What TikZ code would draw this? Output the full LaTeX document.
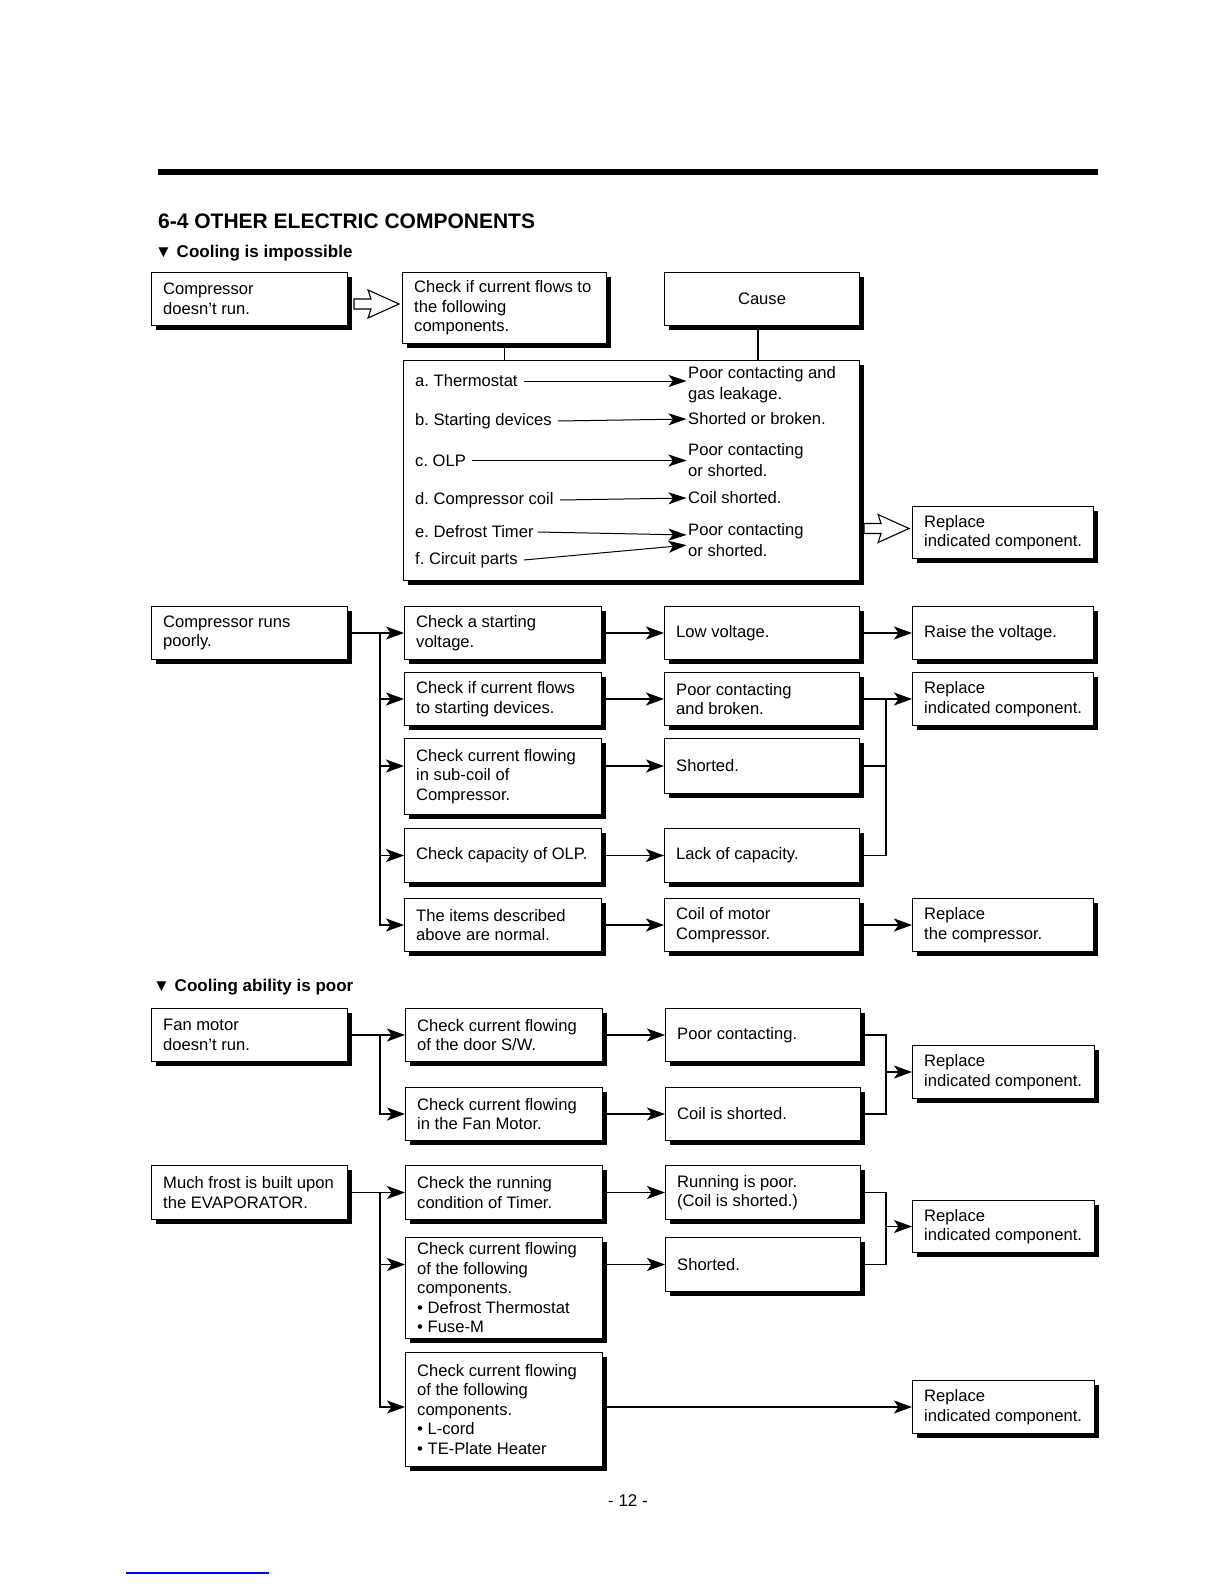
\documentclass[tikz,border=0pt]{standalone}
\usepackage{fontspec}
\setmainfont{Liberation Sans}
\usetikzlibrary{arrows.meta,shadows,calc}
\newcommand\bx[6]{%
  \pgfmathsetmacro\myBW{#4-#2}%
  \pgfmathsetmacro\myBH{#5-#3}%
  \node[box,minimum width=\myBW pt,minimum height=\myBH pt] (#1) at (#2,#3) {};
  \node[btxt] (#1-t) at ([xshift=12pt]#1.west) {#6};}
\begin{document}
\frenchspacing
\begin{tikzpicture}[x=1pt,y=-1pt,
  txt/.style={font=\fontsize{16.6}{19.5}\selectfont},
  box/.style={draw,fill=white,line width=1pt,anchor=north west,inner sep=0pt,
     drop shadow={shadow xshift=4.5pt,shadow yshift=-4.5pt,fill=black,opacity=1}},
  btxt/.style={txt,anchor=west,inner sep=0pt,align=left},
  arr/.style={line width=1.3pt,-{Stealth[length=18pt,width=13pt,inset=4.5pt]}},
  sarr/.style={line width=1pt,-{Stealth[length=18pt,width=12pt,inset=4.5pt]},shorten >=1.5pt},
  link/.style={line width=1.3pt},
  itm/.style={txt,inner sep=0pt,anchor=west,align=left},
  cse/.style={itm,font=\fontsize{16.6}{21}\selectfont},
  hollow/.style={draw,fill=white,line width=1.1pt,line join=miter},
  head/.style={inner sep=0pt,anchor=base west,font=\bfseries\fontsize{17}{20}\selectfont}]
\fill[white] (0,0) rectangle (1224,1584);
\useasboundingbox (0,0) rectangle (1224,1584);
\coordinate (xT) at (380,0);
\coordinate (xK) at (886,0);

% header
\draw[line width=6pt] (158,172) -- (1098,172);
\node[inner sep=0pt,anchor=base west,font=\bfseries\fontsize{21}{25}\selectfont] (title) at (158,228) {6-4 OTHER ELECTRIC COMPONENTS};
\node[head] (sub1) at (155,257) {▼ Cooling is impossible};

% section 1
\bx{A}{151}{272}{347}{325}{Compressor\\doesn't run.}
\bx{B}{402}{272}{606}{343}{Check if current flows to\\the following\\components.}
\bx{cause}{664}{272}{859}{325}{}
\node[btxt,anchor=center] (cause-t) at (cause.center) {Cause};
\bx{big}{403}{360}{859}{580}{}
\bx{R1}{912}{506}{1093}{558}{Replace\\indicated component.}

\draw[link] (B.south) -- (B.south |- big.north);
\coordinate (cs) at ([xshift=-4pt]cause.south);
\draw[link] (cs) -- (cs |- big.north);

\path (A.east) ++(6,5) coordinate (h1);
\draw[hollow] (h1) ++(0,-5) -- ++(17,0) -- ++(-3,-9) -- ++(31,14) -- ++(-31,14) -- ++(3,-9) -- ++(-17,0) -- cycle;
\path (R1.west) ++(-48,-4) coordinate (h2);
\draw[hollow] (h2) ++(0,-5) -- ++(17,0) -- ++(-3,-9) -- ++(31,14) -- ++(-31,14) -- ++(3,-9) -- ++(-17,0) -- cycle;

\node[itm] (i1) at (415,381) {a. Thermostat};
\node[itm] (i2) at (415,421) {b. Starting devices};
\node[itm] (i3) at (415,460.5) {c. OLP};
\node[itm] (i4) at (415,500) {d. Compressor coil};
\node[itm] (i5) at (415,532) {e. Defrost Timer};
\node[itm] (i6) at (415,560) {f. Circuit parts};
\node[cse] (ca) at (688,385) {Poor contacting and\\gas leakage.};
\node[cse] (cb) at (688,419) {Shorted or broken.};
\node[cse] (cc) at (688,460) {Poor contacting\\or shorted.};
\node[cse] (cd) at (688,498) {Coil shorted.};
\node[cse] (ce) at (688,540) {Poor contacting\\or shorted.};
\draw[sarr] ([xshift=6pt]i1.east) -- (i1.east -| ca.west);
\draw[sarr] ([xshift=6pt]i2.east) -- (cb.west);
\draw[sarr] ([xshift=6pt]i3.east) -- (i3.east -| cc.west);
\draw[sarr] ([xshift=6pt]i4.east) -- (cd.west);
\draw[sarr] ([xshift=4pt]i5.east) -- ([yshift=5pt]ce.west);
\draw[sarr] ([xshift=6pt]i6.east) -- ([yshift=-5pt]ce.west);

% section 2
\bx{S2a}{151}{606}{347}{659}{Compressor runs\\poorly.}
\bx{c1}{404}{606}{601}{659}{Check a starting\\voltage.}
\bx{r1}{664}{606}{859}{659}{Low voltage.}
\bx{R21}{912}{606}{1093}{659}{Raise the voltage.}
\bx{c2}{404}{672}{601}{725}{Check if current flows\\to starting devices.}
\bx{r2}{664}{672}{859}{725}{Poor contacting\\and broken.}
\bx{R22}{912}{672}{1093}{725}{Replace\\indicated component.}
\bx{c3}{404}{738}{601}{814}{Check current flowing\\in sub-coil of\\Compressor.}
\bx{r3}{664}{738}{859}{793}{Shorted.}
\bx{c4}{404}{828}{601}{882}{Check capacity of OLP.}
\bx{r4}{664}{828}{859}{882}{Lack of capacity.}
\bx{c5}{404}{898}{601}{951}{The items described\\above are normal.}
\bx{r5}{664}{898}{859}{951}{Coil of motor\\Compressor.}
\bx{R25}{912}{898}{1093}{951}{Replace\\the compressor.}

\draw[arr] (S2a.east) -- (c1.west);
\draw[arr] (S2a.east -| xT) |- (c5.west);
\draw[arr] (c2.west -| xT) -- (c2.west);
\draw[arr] (r3.west -| xT) -- (r3.west -| c3.west);
\draw[arr] (c4.west -| xT) -- (c4.west);
\draw[arr] (c1.east) -- (r1.west);
\draw[arr] (c2.east) -- (r2.west);
\draw[arr] (c3.east |- r3.west) -- (r3.west);
\draw[arr] (c4.east) -- (r4.west);
\draw[arr] (c5.east) -- (r5.west);
\draw[arr] (r1.east) -- (R21.west);
\draw[arr] (r2.east) -- (R22.west);
\draw[link] (r3.east) -| (r2.east -| xK);
\draw[link] (r4.east) -| (r2.east -| xK);
\draw[arr] (r5.east) -- (R25.west);

% section 3
\node[head] (sub2) at (153,991) {▼ Cooling ability is poor};
\bx{F}{151}{1008}{347}{1061}{Fan motor\\doesn't run.}
\bx{d1}{405}{1008}{602}{1061}{Check current flowing\\of the door S/W.}
\bx{p1}{665}{1008}{860}{1061}{Poor contacting.}
\bx{d2}{405}{1087}{602}{1140}{Check current flowing\\in the Fan Motor.}
\bx{p2}{665}{1087}{860}{1140}{Coil is shorted.}
\bx{R3}{912}{1045}{1094}{1098}{Replace\\indicated component.}

\draw[arr] (F.east) -- (d1.west);
\draw[arr] (F.east -| xT) |- (d2.west);
\draw[arr] (d1.east) -- (p1.west);
\draw[arr] (d2.east) -- (p2.west);
\draw[link] (p1.east) -| (R3.west -| xK);
\draw[link] (p2.east) -| (R3.west -| xK);
\draw[arr] (R3.west -| xK) -- (R3.west);

% section 4
\bx{M}{151}{1165}{347}{1219}{Much frost is built upon\\the EVAPORATOR.}
\bx{e1}{405}{1165}{602}{1219}{Check the running\\condition of Timer.}
\bx{q1}{665}{1165}{860}{1219}{Running is poor.\\(Coil is shorted.)}
\bx{e2}{405}{1237}{602}{1338}{Check current flowing\\of the following\\components.\\• Defrost Thermostat\\• Fuse-M}
\bx{q2}{665}{1237}{860}{1291}{Shorted.}
\bx{R4a}{912}{1200}{1094}{1252}{Replace\\indicated component.}
\bx{e3}{405}{1352}{602}{1466}{Check current flowing\\of the following\\components.\\• L-cord\\• TE-Plate Heater}
\bx{R4b}{912}{1380}{1094}{1433}{Replace\\indicated component.}

\draw[arr] (M.east) -- (e1.west);
\draw[arr] (M.east -| xT) |- (e3.west |- R4b.west);
\draw[arr] (q2.west -| xT) -- (q2.west -| e2.west);
\draw[arr] (e1.east) -- (q1.west);
\draw[arr] (e2.east |- q2.west) -- (q2.west);
\draw[link] (q1.east) -| (R4a.west -| xK);
\draw[link] (q2.east) -| (R4a.west -| xK);
\draw[arr] (R4a.west -| xK) -- (R4a.west);
\draw[arr] (e3.east |- R4b.west) -- (R4b.west);

% footer
\node[inner sep=0pt,anchor=base,font=\fontsize{17}{20}\selectfont] (page) at (628,1506) {- 12 -};
\draw[blue,line width=1.3pt] (126,1573) -- (269,1573);
\end{tikzpicture}
\end{document}
